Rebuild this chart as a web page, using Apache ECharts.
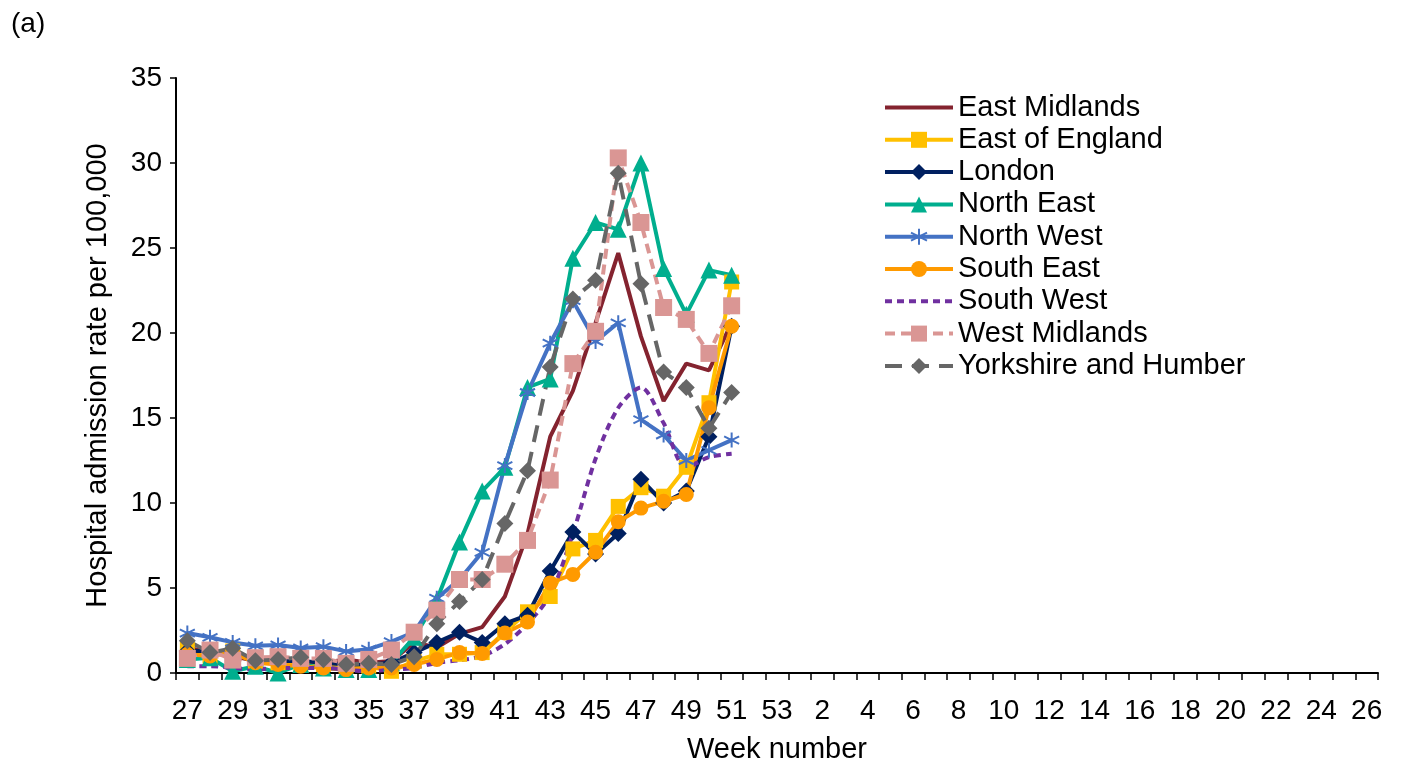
<!DOCTYPE html>
<html>
<head>
<meta charset="utf-8">
<script src="https://cdn.jsdelivr.net/npm/echarts@6/dist/echarts.min.js"></script>
<style>
html,body{margin:0;padding:0;background:#fff;}
#chart{width:1402px;height:766px;}
</style>
</head>
<body>
<div id="chart"></div>
<script>
// Categories: week numbers 27..53 then 1..26
const weeks = [27,28,29,30,31,32,33,34,35,36,37,38,39,40,41,42,43,44,45,46,47,48,49,50,51,52,53,
  1,2,3,4,5,6,7,8,9,10,11,12,13,14,15,16,17,18,19,20,21,22,23,24,25,26].map(String);

const regionNames = ['East Midlands','East of England','London','North East','North West','South East','South West','West Midlands','Yorkshire and Humber'];

// Values for weeks 27..51
const eastMidlands   = [1.5,1.2,1.0,0.7,0.6,0.5,0.6,0.8,0.6,0.7,1.8,1.5,2.3,2.7,4.5,8.2,13.9,16.6,20.6,24.7,19.8,16.0,18.2,17.8,20.6];
const eastOfEngland  = [1.4,1.0,1.3,0.7,0.6,0.5,0.5,0.4,0.4,0.1,0.7,1.1,1.1,1.2,2.4,3.6,4.5,7.3,7.8,9.8,10.9,10.4,12.1,15.9,23.0];
const london         = [1.3,1.3,1.2,0.7,0.7,0.7,0.6,0.5,0.5,0.6,1.2,1.8,2.4,1.8,2.9,3.4,6.0,8.3,7.0,8.2,11.4,10.0,10.7,13.9,20.4];
const northEast      = [0.8,0.9,0.1,0.4,0.0,0.5,0.3,0.2,0.2,0.6,2.1,4.3,7.7,10.7,12.1,16.8,17.3,24.4,26.5,26.1,30.0,23.8,21.1,23.7,23.4];
const northWest      = [2.35,2.1,1.8,1.6,1.65,1.47,1.55,1.27,1.4,1.85,2.4,4.4,5.5,7.1,12.2,16.5,19.4,21.9,19.5,20.6,14.9,14.0,12.5,13.1,13.7];
const southEast      = [1.1,1.0,1.2,0.6,0.5,0.4,0.3,0.2,0.3,0.3,0.5,0.8,1.2,1.15,2.35,3.0,5.3,5.8,7.1,8.9,9.7,10.1,10.5,15.6,20.4];
const southWest      = [0.4,0.4,0.3,0.2,0.3,0.3,0.3,0.2,0.1,0.2,0.3,0.6,0.75,1.0,1.7,2.9,4.6,8.2,12.6,15.6,16.8,14.7,12.1,12.7,12.9];
const westMidlands   = [0.86,1.35,0.76,0.9,0.96,0.86,0.86,0.57,0.8,1.35,2.4,3.7,5.5,5.5,6.4,7.8,11.35,18.2,20.1,30.3,26.5,21.5,20.8,18.8,21.6];
const yorkshire      = [1.9,1.2,1.45,0.72,0.8,0.92,0.78,0.5,0.57,0.5,0.96,2.9,4.2,5.5,8.8,11.9,18.0,22.0,23.1,29.4,22.9,17.7,16.8,14.4,16.5];

const FONT = '"Liberation Sans", Arial, sans-serif';
const asterisk = 'path://M5,0L5,10M0.7,2.5L9.3,7.5M0.7,7.5L9.3,2.5';
const LW = 4;

function mk(name, data, color, symbol, size, lineType, extra) {
  const s = {
    name: name, type: 'line', data: data,
    symbol: symbol || 'none', symbolSize: size || 0,
    showSymbol: !!symbol, showAllSymbol: true,
    lineStyle: {color: color, width: LW, type: lineType || 'solid'},
    itemStyle: {color: color, borderColor: color, borderWidth: 0},
    emphasis: {disabled: true},
    z: 2
  };
  return Object.assign(s, extra || {});
}

const series = [
  mk(regionNames[0], eastMidlands, '#84232F', null, 0),
  mk(regionNames[1], eastOfEngland, '#FFC000', 'rect', 15),
  mk(regionNames[2], london, '#002060', 'diamond', 17),
  mk(regionNames[3], northEast, '#00AE8E', 'triangle', 17),
  mk(regionNames[4], northWest, '#4472C4', asterisk, 15, 'solid',
     {itemStyle: {color: 'none', borderColor: '#4472C4', borderWidth: 2}}),
  mk(regionNames[5], southEast, '#FF9A00', 'circle', 15),
  mk(regionNames[6], southWest, '#7030A0', null, 0, [7,5], {smooth: 0.3}),
  mk(regionNames[7], westMidlands, '#DA9694', 'rect', 17, [10,6]),
  mk(regionNames[8], yorkshire, '#666666', 'diamond', 17, [17,10])
];

const legendData = regionNames.map(function (n, i) {
  if (i === 0 || i === 6) return {name: n, itemStyle: {opacity: 0}};
  return {name: n};
});

const chart = echarts.init(document.getElementById('chart'), null, {renderer: 'canvas'});
chart.setOption({
  animation: false,
  backgroundColor: '#ffffff',
  title: {text: '(a)', left: 6, top: 5, textStyle: {fontFamily: FONT, fontSize: 28, fontWeight: 'normal', color: '#000'}},
  grid: {left: 176, right: 24, top: 78, bottom: 93, containLabel: false, outerBoundsMode: 'none'},
  legend: {
    orient: 'vertical', left: 878, top: 88,
    itemWidth: 68, itemHeight: 20, itemGap: 3.3,
    textStyle: {fontFamily: FONT, fontSize: 29, lineHeight: 28, color: '#000'},
    lineStyle: {width: LW},
    data: legendData
  },
  xAxis: {
    type: 'category', data: weeks, boundaryGap: true,
    name: 'Week number', nameLocation: 'middle', nameGap: 62,
    nameTextStyle: {fontFamily: FONT, fontSize: 29, color: '#000'},
    axisLine: {lineStyle: {color: '#000', width: 2}},
    axisTick: {show: true, interval: 0, length: 7, alignWithLabel: false, lineStyle: {color: '#000', width: 1.5}},
    axisLabel: {interval: 1, fontFamily: FONT, fontSize: 28, color: '#000', margin: 24},
    splitLine: {show: false}
  },
  yAxis: {
    type: 'value', min: 0, max: 35, interval: 5,
    name: 'Hospital admission rate per 100,000', nameLocation: 'middle', nameGap: 64,
    nameTextStyle: {fontFamily: FONT, fontSize: 29, color: '#000'},
    axisLine: {show: true, lineStyle: {color: '#000', width: 2}},
    axisTick: {show: true, length: 6, inside: false, lineStyle: {color: '#000', width: 1.5}},
    axisLabel: {fontFamily: FONT, fontSize: 28, color: '#000', margin: 14},
    splitLine: {show: false}
  },
  series: series
});
</script>
</body>
</html>
